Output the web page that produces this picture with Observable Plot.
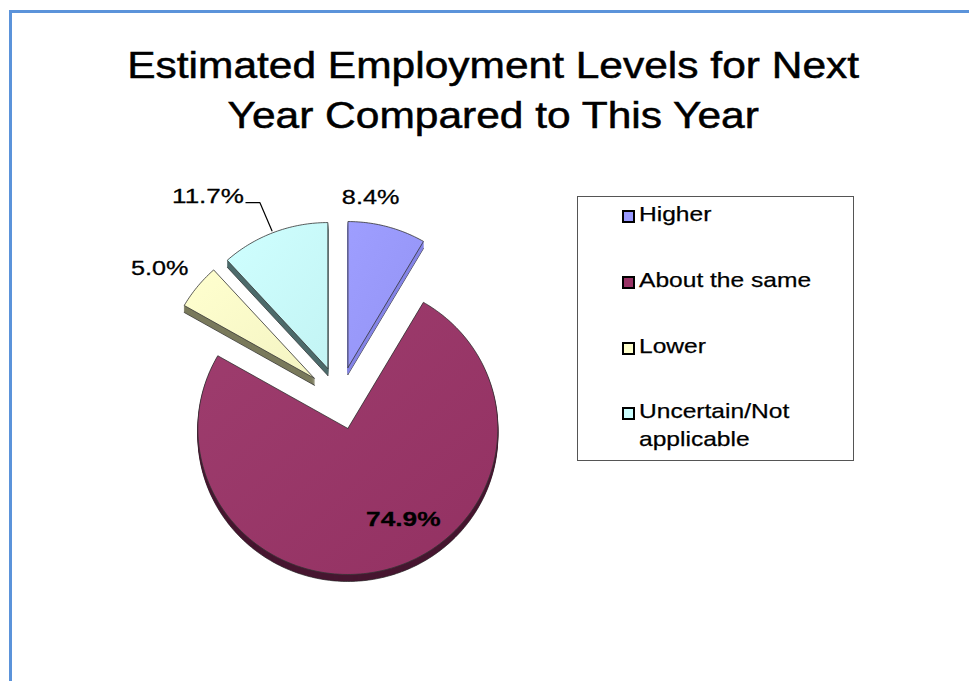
<!DOCTYPE html>
<html>
<head>
<meta charset="utf-8">
<script src="https://cdn.jsdelivr.net/npm/d3@7"></script>
<script src="https://cdn.jsdelivr.net/npm/@observablehq/plot@0.6"></script>
<style>
  html, body { margin: 0; padding: 0; background: #fff; }
  #page { position: relative; width: 969px; height: 681px; overflow: hidden; background: #fff;
          font-family: "Liberation Sans", Arial, sans-serif; }
  #chart { position: absolute; left: 0; top: 0; }
  .bord-top { position: absolute; left: 9px; top: 10px; right: 0; height: 3px; background: #5b93da; }
  .bord-left { position: absolute; left: 9px; top: 10px; bottom: 0; width: 3px; background: #5b93da; }
  #title { position: absolute; left: 0; width: 987px; top: 41px; text-align: center;
           font-size: 36px; line-height: 50px; color: #000; -webkit-text-stroke: 0.5px #000; }
  #title span { display: inline-block; transform: scaleX(1.18); transform-origin: 50% 50%; white-space: nowrap; }
  #legend { position: absolute; left: 577px; top: 196px; width: 275px; height: 263px;
            border: 1px solid #555; box-sizing: content-box; }
  .item { position: absolute; left: 61px; font-size: 21px; line-height: 28px; color: #000;
          -webkit-text-stroke: 0.25px #000;
          transform: scaleX(1.17); transform-origin: 0 50%; white-space: nowrap; }
  .sw { position: absolute; left: 44px; width: 13px; height: 13px; box-sizing: border-box; border: 2px solid #000; }
</style>
</head>
<body>
<div id="page">
  <div class="bord-top"></div>
  <div class="bord-left"></div>
  <div id="chart"></div>
  <div id="title"><span>Estimated Employment Levels for Next</span><br><span>Year Compared to This Year</span></div>
  <div id="legend"></div>
</div>
<script>
// ---- data ----
const categories = ["Higher", "About the same", "Lower", "Uncertain/Not applicable"];
const legendLabels = ["Higher", "About the same", "Lower", "Uncertain/Not<br>applicable"];
const values = [8.4, 74.9, 5.0, 11.7];
const valueLabels = ["8.4%", "74.9%", "5.0%", "11.7%"];
const colors = ["#9999FF", "#993366", "#FFFFCC", "#CCFFFF"];
const sideColors = ["#8585E6", "#471630", "#7A7A5C", "#4E6C6C"];

// ---- geometry (layout) ----
const explode = 0.216;
const total = d3.sum(values);
const slices = [];
let cum = 0;
values.forEach((v, i) => {
  const a0 = cum / total * 2 * Math.PI;
  cum += v;
  const a1 = cum / total * 2 * Math.PI;
  const am = (a0 + a1) / 2;
  const cx = explode * Math.sin(am), cy = explode * Math.cos(am);
  slices.push({i, cat: categories[i], a0, a1, am, cx, cy});
});

const pts = [];
for (const s of slices) {
  pts.push({cat: s.cat, i: s.i, x: s.cx, y: s.cy});
  const n = Math.max(4, Math.ceil((s.a1 - s.a0) / (Math.PI / 180)));
  for (let k = 0; k <= n; k++) {
    const a = s.a0 + (s.a1 - s.a0) * k / n;
    pts.push({cat: s.cat, i: s.i, x: s.cx + Math.sin(a), y: s.cy + Math.cos(a)});
  }
  pts.push({cat: s.cat, i: s.i, x: s.cx, y: s.cy});
}

const rx = 150, ry = 146;
const labelLayout = [
  {r: 1, dx: -16.5, dy: -29, anchor: "middle", bold: false, sx: 1.2},
  {r: 0.7, dx: 28.4, dy: -8.4, anchor: "middle", bold: true, sx: 1.25},
  {r: 1, dx: -9, dy: -18.7, anchor: "end", bold: false, sx: 1.2},
  {r: 1, dx: -30, dy: -35.6, anchor: "end", bold: false, sx: 1.24}
];
const labelData = slices.map(s => {
  const L = labelLayout[s.i];
  return {
    i: s.i, text: valueLabels[s.i],
    x: s.cx + L.r * Math.sin(s.am), y: s.cy + L.r * Math.cos(s.am),
    dx: L.dx, dy: L.dy, anchor: L.anchor, bold: L.bold, sx: L.sx
  };
});

const su = slices[3];
const p0 = {x: su.cx + Math.sin(su.am), y: su.cy + Math.cos(su.am)};
const leader = [
  {x: p0.x - 2 / rx, y: p0.y + 1.5 / ry},
  {x: p0.x - 14 / rx, y: p0.y + 29.6 / ry},
  {x: p0.x - 28 / rx, y: p0.y + 29.6 / ry}
];

const sideOf = i => sideColors[i];

const marks = [];
const depth = 7;
for (let d = depth; d >= 1; d--) {
  marks.push(Plot.line(pts, {
    x: "x", y: "y", z: "cat", dy: d,
    fill: p => sideOf(p.i),
    stroke: d === depth ? "#222" : (p => sideOf(p.i)),
    strokeWidth: d === depth ? 0.7 : 0.5,
    curve: "linear"
  }));
}
marks.push(Plot.line(pts, {
  x: "x", y: "y", z: "cat",
  fill: p => `url(#slice-grad-${p.i})`,
  stroke: "#333", strokeWidth: 0.8, strokeLinejoin: "round",
  curve: "linear"
}));
marks.push(Plot.line(leader, {x: "x", y: "y", stroke: "#000", strokeWidth: 1.2}));
labelData.forEach(L => {
  marks.push(Plot.text([L], {
    x: "x", y: "y", text: "text", dx: L.dx, dy: L.dy,
    textAnchor: L.anchor, lineAnchor: "middle",
    fontSize: 21, fontWeight: L.bold ? "bold" : "normal",
    fill: "#000", stroke: "#000", strokeWidth: 0.3,
    className: `pct-label-${L.i}`
  }));
});

const chart = Plot.plot({
  width: 969, height: 681,
  margin: 0,
  x: {domain: [-1, 1], range: [339 - rx, 339 + rx], axis: null},
  y: {domain: [-1, 1], range: [397.5 + ry, 397.5 - ry], axis: null},
  color: {type: "identity"},
  style: {fontFamily: "'Liberation Sans', Arial, sans-serif", background: "transparent", overflow: "visible"},
  marks
});

// gradient definitions for the top faces (subtle shading like the original)
const ns = "http://www.w3.org/2000/svg";
const defs = document.createElementNS(ns, "defs");
colors.forEach((c, i) => {
  const g = document.createElementNS(ns, "linearGradient");
  g.setAttribute("id", `slice-grad-${i}`);
  g.setAttribute("x1", "0"); g.setAttribute("y1", "0");
  g.setAttribute("x2", "1"); g.setAttribute("y2", "1");
  const base = d3.rgb(c);
  const light = d3.interpolateRgb(base, "#ffffff")(0.05);
  const dark = base.darker(0.12).formatHex();
  [[0, light], [1, dark]].forEach(([o, col]) => {
    const st = document.createElementNS(ns, "stop");
    st.setAttribute("offset", o);
    st.setAttribute("stop-color", col);
    g.appendChild(st);
  });
  defs.appendChild(g);
});
chart.insertBefore(defs, chart.firstChild);

// slight horizontal stretch of the labels, matching the original rendering
labelData.forEach(L => {
  chart.querySelectorAll(`.pct-label-${L.i} text`).forEach(t => {
    const tr = t.getAttribute("transform") || "";
    t.setAttribute("transform", tr + ` scale(${L.sx},1)`);
  });
});
document.getElementById("chart").appendChild(chart);

// ---- legend (HTML) ----
const legend = document.getElementById("legend");
const rowTops = [9, 75, 141, 206];
categories.forEach((c, i) => {
  const sw = document.createElement("div");
  sw.className = "sw";
  sw.style.top = (rowTops[i] + 4) + "px";
  sw.style.background = colors[i];
  legend.appendChild(sw);
  const t = document.createElement("div");
  t.className = "item";
  t.style.top = (rowTops[i] - 6) + "px";
  t.innerHTML = legendLabels[i];
  legend.appendChild(t);
});
</script>
</body>
</html>
